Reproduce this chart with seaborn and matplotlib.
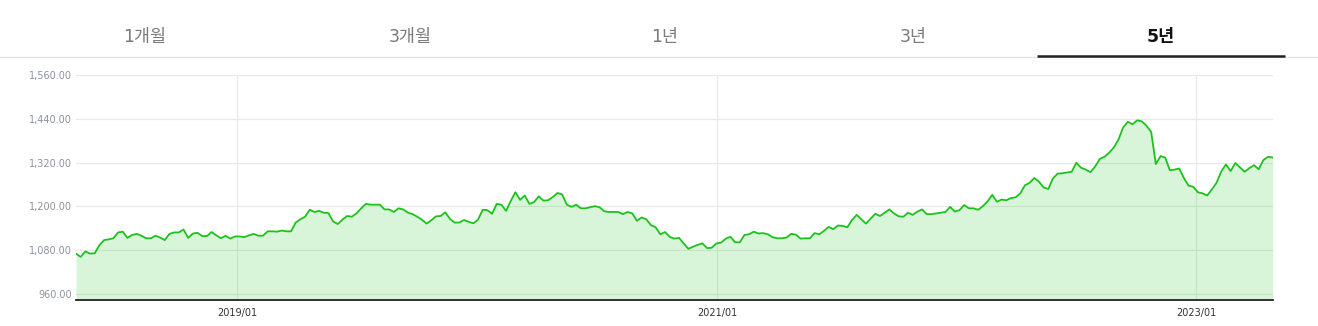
import matplotlib
matplotlib.use("Agg")
import matplotlib.pyplot as plt
import matplotlib.dates as mdates
from matplotlib.lines import Line2D
import seaborn as sns
import pandas as pd
import numpy as np

# ---- data (weekly KRW/USD) ----
start_date = "2018-04-30"
end_date = "2023-04-28"
seg1 = [1071, 1062, 1077, 1071, 1072, 1094, 1108, 1110, 1113, 1129, 1131, 1114,
        1122, 1125, 1120, 1113, 1113, 1120, 1115, 1108, 1125, 1129, 1129, 1137,
        1114, 1126, 1128, 1119, 1119, 1130, 1121, 1113, 1120, 1112, 1118, 1118]
seg2 = [1116, 1121, 1125, 1120, 1120, 1132, 1132, 1131, 1134, 1132, 1132, 1156,
        1165, 1172, 1191, 1185, 1188, 1183, 1182, 1159, 1152, 1164, 1174, 1172,
        1181, 1195, 1207, 1205, 1205, 1205, 1192, 1192, 1185, 1195, 1192, 1183, 1179]
seg3 = [1172, 1164, 1153, 1162, 1173, 1174, 1184, 1166, 1156, 1156, 1163, 1158,
        1154, 1164, 1191, 1190, 1180, 1207, 1205, 1188, 1215, 1239, 1218, 1230,
        1207, 1212, 1228, 1216, 1217, 1226, 1237, 1233, 1205, 1199, 1205, 1195, 1195]
seg4 = [1198, 1201, 1198, 1187, 1185, 1185, 1185, 1179, 1185, 1181, 1161, 1170,
        1165, 1149, 1143, 1124, 1130, 1117, 1112, 1114, 1099, 1084, 1090, 1095,
        1099, 1086, 1087, 1099, 1101, 1112, 1117, 1102, 1102, 1122, 1124, 1131, 1126]
seg5 = [1127, 1124, 1116, 1113, 1113, 1115, 1125, 1123, 1112, 1113, 1113, 1127,
        1124, 1133, 1144, 1138, 1148, 1147, 1143, 1163, 1177, 1165, 1153, 1167,
        1180, 1174, 1183, 1192, 1181, 1173, 1172, 1183, 1177, 1186, 1192, 1179, 1179]
seg6 = [1181, 1183, 1185, 1199, 1186, 1190, 1204, 1195, 1195, 1191, 1201, 1214,
        1232, 1213, 1219, 1217, 1223, 1225, 1236, 1258, 1265, 1278, 1268, 1252,
        1248, 1277, 1290, 1291, 1293, 1295, 1320, 1306, 1301, 1294, 1309, 1330,
        1336, 1347]
seg7 = [1361, 1383, 1416, 1432, 1425, 1436, 1433, 1421, 1404, 1316, 1338, 1334,
        1299, 1301, 1304, 1278, 1257, 1254, 1239, 1236, 1230, 1247, 1265, 1296,
        1315, 1297, 1319, 1307, 1295, 1305, 1313, 1302, 1327, 1336, 1334]
rates = seg1 + seg2 + seg3 + seg4 + seg5 + seg6 + seg7

y_ticks = [960, 1080, 1200, 1320, 1440, 1560]
x_tick_dates = ["2019-01-01", "2021-01-01", "2023-01-01"]
x_tick_labels = ["2019/01", "2021/01", "2023/01"]
tab_labels = ["1개월", "3개월", "1년", "3년", "5년"]
selected_tab = "5년"

dates = pd.date_range(start_date, end_date, periods=len(rates))
df = pd.DataFrame({"date": dates, "rate": rates})

# ---- style ----
sns.set_style("white")
plt.rcParams["font.family"] = ["DejaVu Sans", "Noto Sans CJK KR"]

W, H = 1318, 326
fig = plt.figure(figsize=(W / 100, H / 100), dpi=100)
ax = fig.add_axes([76 / W, 1 - 300 / H, (1272.7 - 76) / W, (300 - 75) / H])

ymin, ymax = 944, 1560
line_color = "#1cc21c"
ax.fill_between(df["date"], df["rate"], ymin, color="#2ecc2e", alpha=0.18,
                linewidth=0, zorder=2)
sns.lineplot(data=df, x="date", y="rate", ax=ax, color=line_color,
             linewidth=1.3, zorder=3)

ax.set_xlim(pd.Timestamp(start_date), pd.Timestamp(end_date))
ax.set_ylim(ymin, ymax)
ax.set_yticks(y_ticks)
ax.set_yticklabels([f"{v:,.2f}" for v in y_ticks])
ax.set_xticks([pd.Timestamp(d) for d in x_tick_dates])
ax.set_xticklabels(x_tick_labels)
ax.set_xlabel("")
ax.set_ylabel("")

ax.grid(True, color="#e9e9e9", linewidth=0.9, zorder=1)
ax.set_axisbelow(True)
for s in ["left", "right", "top"]:
    ax.spines[s].set_visible(False)
ax.spines["bottom"].set_color("#222222")
ax.spines["bottom"].set_linewidth(1.3)

ax.tick_params(axis="y", length=0, pad=3, labelsize=7, labelcolor="#8d929b")
ax.tick_params(axis="x", length=4, width=0.8, color="#222222", pad=2,
               labelsize=7, labelcolor="#333333")

# ---- tabs header ----
tab_centers = [145, 410, 665, 913, 1161]
for lab, cx in zip(tab_labels, tab_centers):
    sel = lab == selected_tab
    fig.text(cx / W, 1 - 37 / H, lab, ha="center", va="center",
             fontsize=12.5, color="#111111" if sel else "#7a7a7a",
             fontweight="bold" if sel else "normal",
             family=["DejaVu Sans", "Noto Sans CJK KR"])
fig.add_artist(Line2D([0, 1], [1 - 56.5 / H, 1 - 56.5 / H], color="#e3e3e3",
                      linewidth=0.9, transform=fig.transFigure))
fig.add_artist(Line2D([1037 / W, 1285 / W], [1 - 55.5 / H, 1 - 55.5 / H],
                      color="#222222", linewidth=1.8, transform=fig.transFigure,
                      solid_capstyle="butt"))

fig.savefig("out.png", dpi=100, facecolor="white")
